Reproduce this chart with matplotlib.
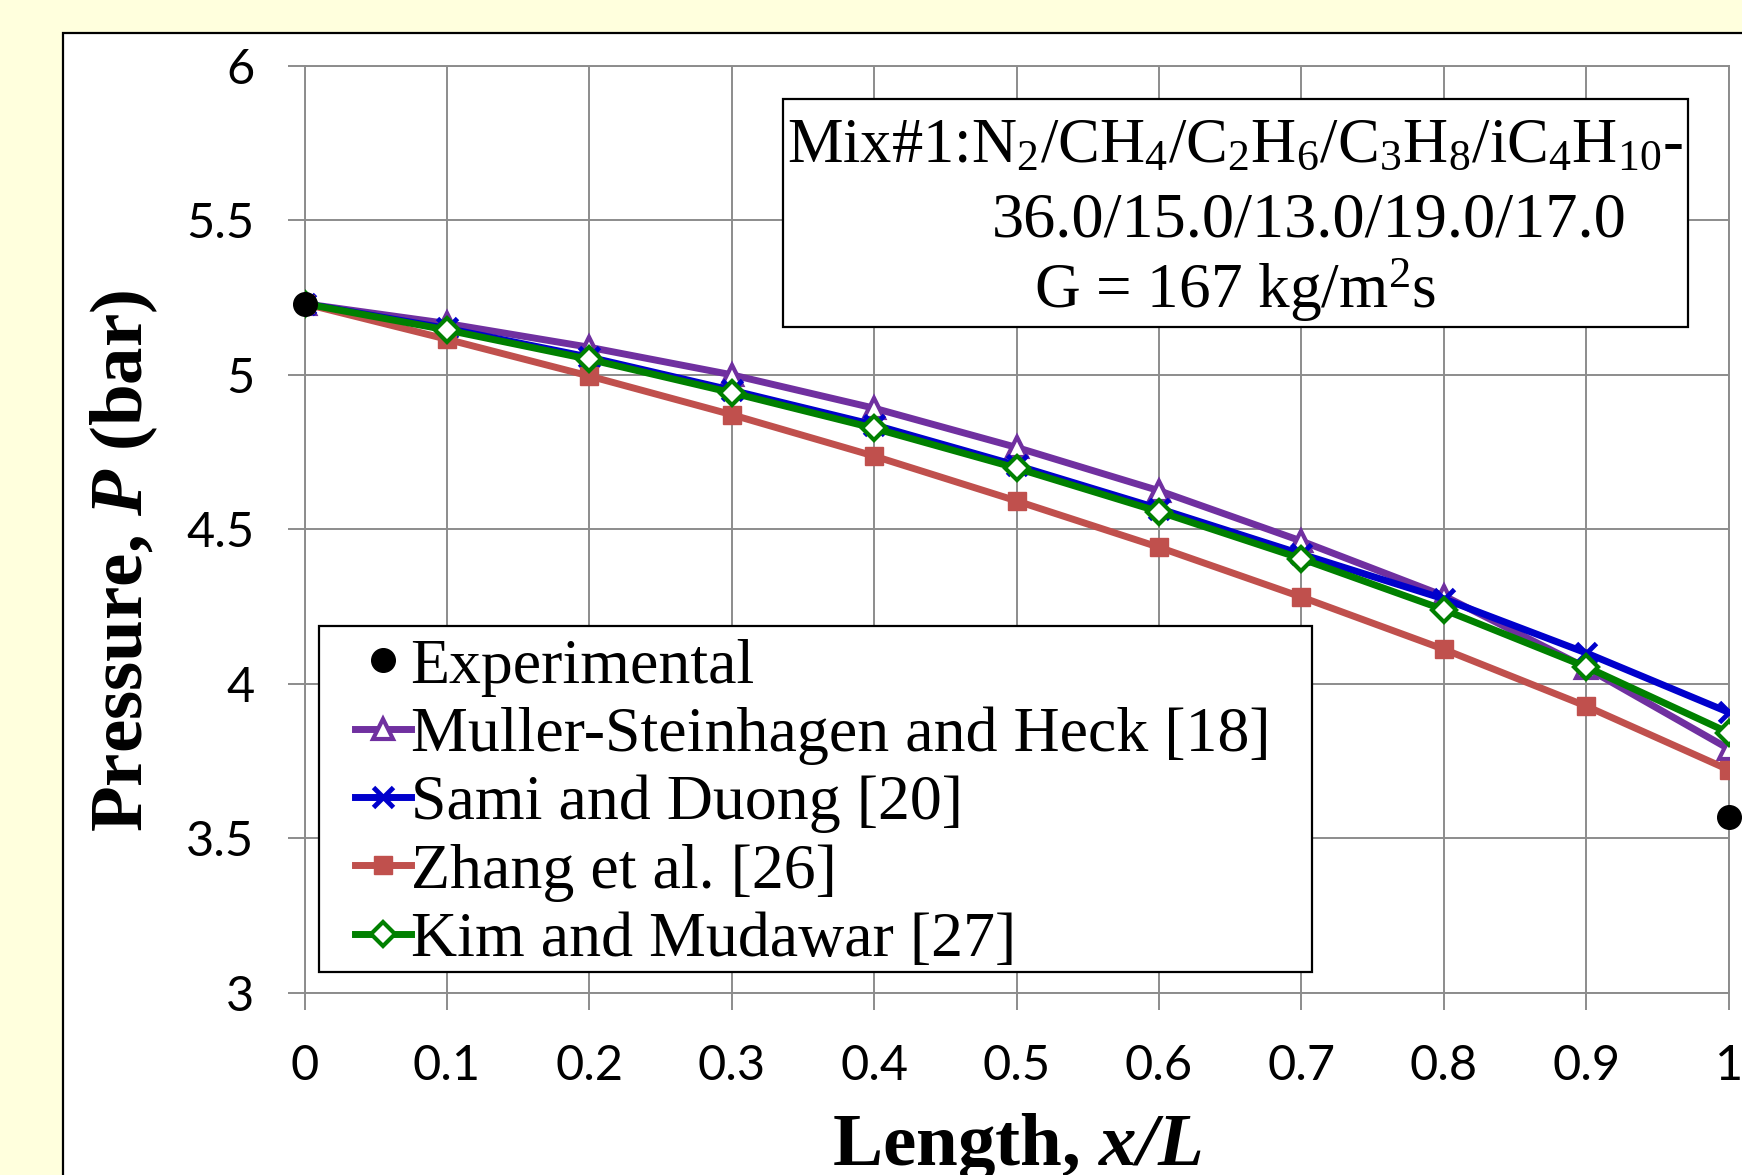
import matplotlib
matplotlib.use("Agg")
import matplotlib.pyplot as plt
from matplotlib.patches import Rectangle

# ---------------- data ----------------
x_pos = [0.0, 0.1, 0.2, 0.3, 0.4, 0.5, 0.6, 0.7, 0.8, 0.9, 1.0]
exp_x = [0.0, 1.0]
exp_p = [5.23, 3.57]
muller = [5.23, 5.166, 5.089, 5.000, 4.892, 4.765, 4.625, 4.462, 4.285, 4.052, 3.790]
sami = [5.23, 5.150, 5.057, 4.950, 4.838, 4.707, 4.567, 4.420, 4.275, 4.100, 3.908]
zhang = [5.23, 5.115, 4.996, 4.871, 4.737, 4.592, 4.442, 4.281, 4.112, 3.928, 3.722]
kim = [5.23, 5.145, 5.050, 4.942, 4.827, 4.698, 4.557, 4.405, 4.240, 4.055, 3.842]

labels = ["Experimental", "Muller-Steinhagen and Heck [18]", "Sami and Duong [20]",
          "Zhang et al. [26]", "Kim and Mudawar [27]"]
x_ticks = [0, 0.1, 0.2, 0.3, 0.4, 0.5, 0.6, 0.7, 0.8, 0.9, 1]
x_ticklabels = ["0", "0.1", "0.2", "0.3", "0.4", "0.5", "0.6", "0.7", "0.8", "0.9", "1"]
y_ticks = [3, 3.5, 4, 4.5, 5, 5.5, 6]
y_ticklabels = ["3", "3.5", "4", "4.5", "5", "5.5", "6"]

# ---------------- style ----------------
plt.rcParams['mathtext.fontset'] = 'custom'
plt.rcParams['mathtext.rm'] = 'Liberation Serif'
plt.rcParams['mathtext.it'] = 'Liberation Serif:italic'
plt.rcParams['mathtext.bf'] = 'Liberation Serif:bold'
plt.rcParams['mathtext.bfit'] = 'Liberation Serif:italic:bold'

W, H = 1742, 1175
fig = plt.figure(figsize=(W / 100, H / 100), dpi=100)
fig.patch.set_facecolor('#FFFFDD')

def fx(px):
    return px / W

def fy(py):
    return 1 - py / H

# white chart panel (behind everything)
fig.patches.append(Rectangle((fx(63), -0.05), 1.2, fy(33) + 0.05, transform=fig.transFigure,
                             facecolor='white', edgecolor='black', linewidth=1.6, zorder=-5))

ax = fig.add_axes([fx(304.5), fy(993), fx(1728.7) - fx(304.5), fy(65.7) - fy(993)])
ax.set_zorder(2)
ax.set_facecolor('white')
ax.set_xlim(0, 1)
ax.set_ylim(3, 6)

grid_c = '#8C8C8C'
for s in ax.spines.values():
    s.set_color(grid_c)
    s.set_linewidth(1.4)
ax.grid(True, color=grid_c, linewidth=1.4, zorder=0)
ax.set_axisbelow(True)
ax.set_xticks(x_ticks)
ax.set_xticklabels(x_ticklabels)
ax.set_yticks(y_ticks)
ax.set_yticklabels(y_ticklabels)
ax.tick_params(axis='both', direction='out', length=12, width=1.4, color=grid_c,
               labelsize=35)
ax.tick_params(axis='y', pad=24)
ax.tick_params(axis='x', pad=25)
for lab in ax.get_xticklabels() + ax.get_yticklabels():
    lab.set_family('Lato')

lw = 5
h_m, = ax.plot(x_pos, muller, color='#7030A0', lw=lw, marker='^', ms=14,
               mfc='white', mec='#7030A0', mew=3, zorder=3, label=labels[1])
h_s, = ax.plot(x_pos, sami, color='#0000CC', lw=lw, marker='x', ms=15,
               mec='#0000CC', mew=3.5, zorder=4, label=labels[2])
h_z, = ax.plot(x_pos, zhang, color='#C0504D', lw=lw, marker='s', ms=13,
               mfc='#C0504D', mec='#C0504D', zorder=5, label=labels[3])
h_k, = ax.plot(x_pos, kim, color='#008000', lw=lw, marker='D', ms=12,
               mfc='white', mec='#008000', mew=3, zorder=6, label=labels[4])
h_e, = ax.plot(exp_x, exp_p, linestyle='none', marker='o', ms=17, color='black',
               zorder=8, clip_on=False, label=labels[0])

# legend (frameless) + manual frame
leg = ax.legend(handles=[h_e, h_m, h_s, h_z, h_k], loc='upper left',
                bbox_to_anchor=(fx(355), fy(638)), bbox_transform=fig.transFigure,
                frameon=False, prop={'family': 'Liberation Serif', 'size': 46},
                handlelength=0.87, handletextpad=0.0, labelspacing=0.15,
                borderpad=0.0, borderaxespad=0.0, numpoints=1)
leg.set_zorder(12)
ax.add_patch(Rectangle((fx(319), fy(972)), fx(1312) - fx(319), fy(625.5) - fy(972),
                       transform=fig.transFigure, facecolor='white', clip_on=False,
                       edgecolor='black', linewidth=1.6, zorder=9))

# annotation box
ax.add_patch(Rectangle((fx(783), fy(327)), fx(1688) - fx(783), fy(99.3) - fy(327),
                       transform=fig.transFigure, facecolor='white', clip_on=False,
                       edgecolor='black', linewidth=1.6, zorder=9))
tkw = dict(family='Liberation Serif', va='baseline', ha='left', zorder=11,
           transform=fig.transFigure)
ax.text(fx(787), fy(162.7),
        r"Mix#1:N$_2$/CH$_4$/C$_2$H$_6$/C$_3$H$_8$/iC$_4$H$_{10}$-", fontsize=45, **tkw)
ax.text(fx(992), fy(236.7), "36.0/15.0/13.0/19.0/17.0", fontsize=46.4, **tkw)
ax.text(fx(1034), fy(308), r"G = 167 kg/m$^2$s", fontsize=45.5, **tkw)

# axis labels
fig.text(fx(1016.6), fy(1165), r"Length, $\mathbfit{x/L}$", family='Liberation Serif',
         fontweight='bold', fontsize=54, ha='center', va='baseline')
fig.text(fx(124), fy(561), r"Pressure, $\mathbfit{P}$ (bar)", family='Liberation Serif',
         fontweight='bold', fontsize=54, ha='center', va='center', rotation=90)

fig.savefig('out.png', dpi=100, facecolor=fig.get_facecolor())
